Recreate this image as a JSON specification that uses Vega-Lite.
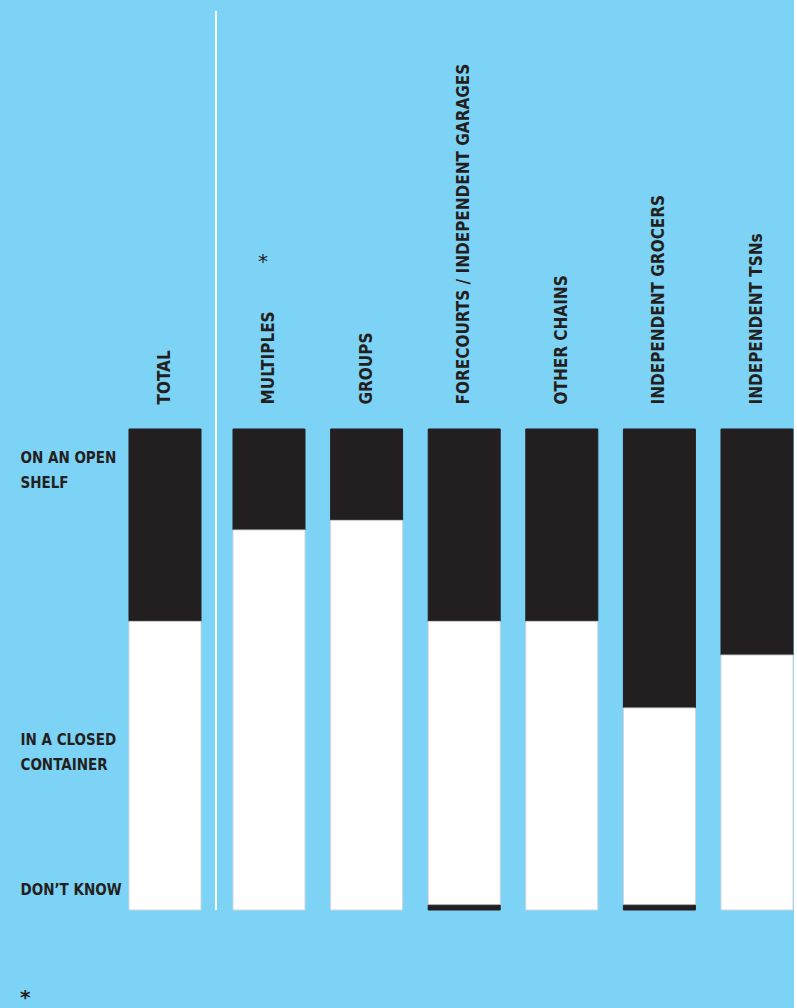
{
  "$schema": "https://vega.github.io/schema/vega-lite/v6.json",
  "background": "#7dd3f5",
  "padding": {"left": 20, "top": 10, "right": 0, "bottom": 0},
  "config": {
    "view": {"stroke": null},
    "font": "DejaVu Sans Condensed, sans-serif"
  },
  "title": {
    "text": "*",
    "orient": "bottom",
    "anchor": "start",
    "frame": "bounds",
    "offset": 77,
    "fontSize": 20,
    "font": "DejaVu Sans",
    "fontWeight": "bold",
    "color": "#231f20"
  },
  "datasets": {
    "shares": [
      {"channel": "TOTAL", "response": "ON AN OPEN SHELF", "share": 40},
      {"channel": "TOTAL", "response": "IN A CLOSED CONTAINER", "share": 60},
      {"channel": "TOTAL", "response": "DON’T KNOW", "share": 0},
      {"channel": "MULTIPLES", "response": "ON AN OPEN SHELF", "share": 21},
      {"channel": "MULTIPLES", "response": "IN A CLOSED CONTAINER", "share": 79},
      {"channel": "MULTIPLES", "response": "DON’T KNOW", "share": 0},
      {"channel": "GROUPS", "response": "ON AN OPEN SHELF", "share": 19},
      {"channel": "GROUPS", "response": "IN A CLOSED CONTAINER", "share": 81},
      {"channel": "GROUPS", "response": "DON’T KNOW", "share": 0},
      {"channel": "FORECOURTS / INDEPENDENT GARAGES", "response": "ON AN OPEN SHELF", "share": 40},
      {"channel": "FORECOURTS / INDEPENDENT GARAGES", "response": "IN A CLOSED CONTAINER", "share": 59},
      {"channel": "FORECOURTS / INDEPENDENT GARAGES", "response": "DON’T KNOW", "share": 1},
      {"channel": "OTHER CHAINS", "response": "ON AN OPEN SHELF", "share": 40},
      {"channel": "OTHER CHAINS", "response": "IN A CLOSED CONTAINER", "share": 60},
      {"channel": "OTHER CHAINS", "response": "DON’T KNOW", "share": 0},
      {"channel": "INDEPENDENT GROCERS", "response": "ON AN OPEN SHELF", "share": 58},
      {"channel": "INDEPENDENT GROCERS", "response": "IN A CLOSED CONTAINER", "share": 41},
      {"channel": "INDEPENDENT GROCERS", "response": "DON’T KNOW", "share": 1},
      {"channel": "INDEPENDENT TSNs", "response": "ON AN OPEN SHELF", "share": 47},
      {"channel": "INDEPENDENT TSNs", "response": "IN A CLOSED CONTAINER", "share": 53},
      {"channel": "INDEPENDENT TSNs", "response": "DON’T KNOW", "share": 0}
    ],
    "notes": [
      {"channel": "MULTIPLES", "note": "*"}
    ]
  },
  "bounds": "flush",
  "spacing": 32,
  "hconcat": [
    {
      "width": 72,
      "height": 481,
      "data": {"name": "shares"},
      "transform": [{"filter": "datum.channel === 'TOTAL' && datum.share > 0"}],
      "layer": [
        {
          "mark": {"type": "bar", "strokeWidth": 1},
          "encoding": {
            "x": {
              "field": "channel", "type": "nominal",
              "scale": {"paddingInner": 0, "paddingOuter": 0},
              "axis": {
                "orient": "top", "title": null, "ticks": false, "domain": false,
                "labelAngle": 270, "labelAlign": "left", "labelBaseline": "middle",
                "labelPadding": 25, "labelFontSize": 17, "labelFontWeight": "bold",
                "labelColor": "#231f20", "labelLimit": 600
              }
            },
            "y": {
              "field": "share", "type": "quantitative", "stack": "zero",
              "scale": {"domain": [0, 100], "nice": false},
              "axis": {
                "orient": "left", "title": null, "grid": false, "domain": false, "ticks": false,
                "values": [94, 35.5, 4.2],
                "labelExpr": "datum.value > 80 ? ['ON AN OPEN', 'SHELF'] : (datum.value > 20 ? ['IN A CLOSED', 'CONTAINER'] : 'DON’T KNOW')",
                "labelAlign": "left", "labelBaseline": "middle", "labelPadding": 109,
                "labelFontSize": 15, "labelLineHeight": 25, "labelFontWeight": "bold",
                "labelColor": "#231f20", "labelFlush": false, "labelOverlap": false, "labelBound": false
              }
            },
            "order": {"field": "response", "sort": "ascending"},
            "color": {
              "field": "response", "type": "nominal", "legend": null,
              "scale": {"domain": ["DON’T KNOW", "IN A CLOSED CONTAINER", "ON AN OPEN SHELF"], "range": ["#231f20", "#ffffff", "#231f20"]}
            },
            "stroke": {
              "field": "response", "type": "nominal", "legend": null,
              "scale": {"domain": ["DON’T KNOW", "IN A CLOSED CONTAINER", "ON AN OPEN SHELF"], "range": ["#231f20", "#cfd6da", "#231f20"]}
            }
          }
        },
        {
          "mark": {"type": "rule", "color": "#ffffff", "strokeWidth": 2},
          "encoding": {
            "x": {"field": "channel", "type": "nominal", "bandPosition": 1.208},
            "y": {"datum": 0, "type": "quantitative"},
            "y2": {"datum": 186.9}
          }
        }
      ]
    },
    {
      "width": 560,
      "height": 481,
      "layer": [
        {
          "data": {"name": "shares"},
          "transform": [{"filter": "datum.channel !== 'TOTAL' && datum.share > 0"}],
          "mark": {"type": "bar", "strokeWidth": 1},
          "encoding": {
            "x": {
              "field": "channel", "type": "nominal",
              "sort": ["MULTIPLES", "GROUPS", "FORECOURTS / INDEPENDENT GARAGES", "OTHER CHAINS", "INDEPENDENT GROCERS", "INDEPENDENT TSNs"],
              "scale": {"paddingInner": 0.2623, "paddingOuter": 0},
              "axis": {
                "orient": "top", "title": null, "ticks": false, "domain": false,
                "labelAngle": 270, "labelAlign": "left", "labelBaseline": "middle",
                "labelPadding": 25, "labelFontSize": 17, "labelFontWeight": "bold",
                "labelColor": "#231f20", "labelLimit": 600
              }
            },
            "y": {
              "field": "share", "type": "quantitative", "stack": "zero",
              "scale": {"domain": [0, 100], "nice": false},
              "axis": null
            },
            "order": {"field": "response", "sort": "ascending"},
            "color": {
              "field": "response", "type": "nominal", "legend": null,
              "scale": {"domain": ["DON’T KNOW", "IN A CLOSED CONTAINER", "ON AN OPEN SHELF"], "range": ["#231f20", "#ffffff", "#231f20"]}
            },
            "stroke": {
              "field": "response", "type": "nominal", "legend": null,
              "scale": {"domain": ["DON’T KNOW", "IN A CLOSED CONTAINER", "ON AN OPEN SHELF"], "range": ["#231f20", "#cfd6da", "#231f20"]}
            }
          }
        },
        {
          "data": {"name": "notes"},
          "mark": {"type": "text", "font": "DejaVu Sans", "fontSize": 20, "color": "#231f20", "baseline": "middle", "align": "center", "dx": -6},
          "encoding": {
            "x": {"field": "channel", "type": "nominal", "sort": ["MULTIPLES", "GROUPS", "FORECOURTS / INDEPENDENT GARAGES", "OTHER CHAINS", "INDEPENDENT GROCERS", "INDEPENDENT TSNs"]},
            "y": {"datum": 134.7, "type": "quantitative"},
            "text": {"field": "note"}
          }
        }
      ]
    }
  ]
}
